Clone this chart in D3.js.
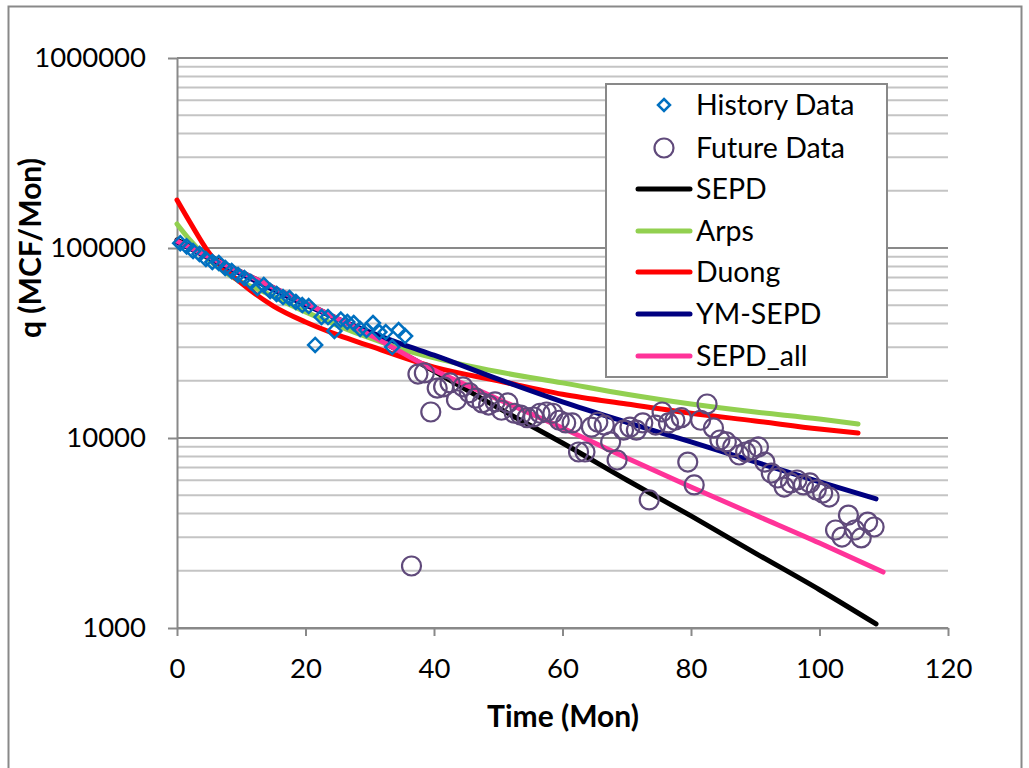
<!DOCTYPE html>
<html>
<head>
<meta charset="utf-8">
<script src="https://cdn.jsdelivr.net/npm/d3@7"></script>
<style>
  body { margin: 0; background: #fff; }
  svg text { font-family: Lato, "Open Sans", sans-serif; fill: #000; }
</style>
</head>
<body>
<svg id="chart" width="1029" height="768"></svg>
<script>
// history production (months, MCF/Mon)
var historyMonths = [0.5,1.5,2.5,3.5,4.5,5.5,6.5,7.5,8.5,9.5,10.5,11.5,12.5,13.5,14.5,15.5,16.5,17.5,
  18.5,19.5,20.5,21.5,22.5,23.5,24.5,25.5,26.5,27.5,28.5,29.5,30.5,31.5,32.5,33.5,34.5,35.5];
var historyRate = [106000,102000,96400,93000,87500,84400,83400,78500,75700,72100,69500,66200,61600,63900,
  59400,57300,55200,54600,52000,50100,49500,30900,43300,43300,36600,42000,40800,40300,37500,37000,
  40300,36100,36100,30100,37000,34400];

// future production
var futureMonths = [36.5,37.5,38.5,39.5,40.5,41.5,42.5,43.5,44.5,45.5,46.5,47.5,48.5,49.5,50.5,51.5,
  52.5,53.5,54.5,55.5,56.5,57.5,58.5,59.5,60.5,61.5,62.5,63.5,64.5,65.5,66.5,67.5,68.5,69.5,70.5,
  71.5,72.5,73.5,74.5,75.5,76.5,77.5,78.5,79.5,80.5,81.5,82.5,83.5,84.5,85.5,86.5,87.5,88.5,89.5,
  90.5,91.5,92.5,93.5,94.5,95.5,96.5,97.5,98.5,99.5,100.5,101.5,102.5,103.5,104.5,105.5,106.5,107.5,108.5];
var futureRate = [2120,21700,22000,13700,18300,18600,19500,15900,18600,17300,16200,15300,14900,15500,
  14000,15300,13500,13200,12800,12900,13500,13700,13500,12400,12000,12000,8440,8440,11400,12100,
  11700,9530,7660,11000,11400,11000,12000,4720,11700,13700,12000,12400,12800,7470,5660,12400,
  15100,11300,9760,9530,8970,8140,8440,8650,8970,7470,6540,6160,5520,5800,6010,5660,5800,5330,
  5130,4890,3280,3010,3930,3280,2980,3610,3400];

// model curves
var sepdMonths = [0,5,10,20,30,40,50,60,70,80,90,100,108.8];
var sepdRate = [110200,90800,74700,51300,34900,22500,14400,9410,6010,3890,2480,1590,1050];

var arpsMonths = [0,2,5,10,12.5,20,30,35,40,50,60,70,80,90,100,106];
var arpsRate = [133800,110200,86500,66200,60800,46100,33600,29400,26400,22300,19500,17000,15100,13700,12600,11850];

var duongMonths = [0,2,5,10,15,20,25,30,40,50,60,70,80,90,100,106];
var duongRate = [178900,137000,94100,65400,49500,40800,34900,30500,23600,20000,17000,15100,13500,12300,11150,10630];

var ymMonths = [0,5,10,20,30,35,40,50,60,70,80,90,100,108.8];
var ymRate = [107500,88600,73000,50100,36100,31200,27300,20400,15500,12100,9530,7480,5870,4780];

var sepdAllMonths = [0,5,10,20,30,40,50,60,70,80,90,100,109.9];
var sepdAllRate = [108900,89700,74700,51300,34900,22800,16000,11300,7850,5520,3930,2800,1970];

var xTicks = [0,20,40,60,80,100,120];
var yTicks = [1000,10000,100000,1000000];

var lineSeries = [
  {name: "SEPD", color: "#000000", t: sepdMonths, q: sepdRate},
  {name: "Arps", color: "#92D050", t: arpsMonths, q: arpsRate},
  {name: "Duong", color: "#FF0000", t: duongMonths, q: duongRate},
  {name: "YM-SEPD", color: "#000080", t: ymMonths, q: ymRate},
  {name: "SEPD_all", color: "#FF3399", t: sepdAllMonths, q: sepdAllRate}
];

var svg = d3.select("#chart");

// chart area border
svg.append("rect")
  .attr("x", 8.5).attr("y", 6.5)
  .attr("width", 1013).attr("height", 800)
  .attr("fill", "#fff").attr("stroke", "#898989").attr("stroke-width", 2);

var x = d3.scaleLinear().domain([0, 120]).range([177, 948]);
var y = d3.scaleLog().domain([1000, 1000000]).range([628, 58]);

// gridlines
var minor = [];
[1000, 10000, 100000].forEach(function(b) {
  for (var k = 2; k <= 9; k++) minor.push(b * k);
});
svg.append("g").selectAll("line").data(minor).enter().append("line")
  .attr("x1", 177).attr("x2", 948)
  .attr("y1", function(d) { return y(d); }).attr("y2", function(d) { return y(d); })
  .attr("stroke", "#c4c4c4").attr("stroke-width", 2);
svg.append("g").selectAll("line").data(yTicks).enter().append("line")
  .attr("x1", 177).attr("x2", 948)
  .attr("y1", function(d) { return y(d); }).attr("y2", function(d) { return y(d); })
  .attr("stroke", "#898989").attr("stroke-width", 2);

// axes
var xAxis = svg.append("g")
  .attr("transform", "translate(0,628)")
  .call(d3.axisBottom(x).tickValues(xTicks).tickSize(8).tickPadding(22).tickSizeOuter(0));
var yAxis = svg.append("g")
  .attr("transform", "translate(177,0)")
  .call(d3.axisLeft(y).tickValues(yTicks).tickFormat(d3.format("d")).tickSize(9).tickPadding(22).tickSizeOuter(0));
[xAxis, yAxis].forEach(function(a) {
  a.selectAll("path, line").attr("stroke", "#898989").attr("stroke-width", 2);
  a.selectAll("text").style("font-size", "27.5px").attr("fill", "#000");
});

// model lines
var line = d3.line()
  .x(function(d) { return x(d[0]); })
  .y(function(d) { return y(d[1]); })
  .curve(d3.curveMonotoneX);
lineSeries.forEach(function(s) {
  svg.append("path")
    .datum(s.t.map(function(t, i) { return [t, s.q[i]]; }))
    .attr("d", line)
    .attr("fill", "none")
    .attr("stroke", s.color)
    .attr("stroke-width", 5)
    .attr("stroke-linecap", "round")
    .attr("stroke-linejoin", "round");
});

// future data circles
svg.append("g").selectAll("circle")
  .data(futureMonths)
  .enter().append("circle")
  .attr("cx", function(d) { return x(d); })
  .attr("cy", function(d, i) { return y(futureRate[i]); })
  .attr("r", 9.5)
  .attr("fill", "none")
  .attr("stroke", "#604A7B")
  .attr("stroke-width", 2.2);

// history data diamonds
var diamond = function(cx, cy, h) {
  return "M" + cx + "," + (cy - h) + "L" + (cx + h) + "," + cy + "L" + cx + "," + (cy + h) + "L" + (cx - h) + "," + cy + "Z";
};
svg.append("g").selectAll("path")
  .data(historyMonths)
  .enter().append("path")
  .attr("d", function(d, i) { return diamond(x(d), y(historyRate[i]), 7); })
  .attr("fill", "none")
  .attr("stroke", "#0070C0")
  .attr("stroke-width", 2.5);

// axis titles
svg.append("text")
  .attr("x", 563).attr("y", 727)
  .attr("text-anchor", "middle")
  .style("font-size", "30px").style("font-weight", "bold")
  .text("Time (Mon)");
svg.append("text")
  .attr("transform", "translate(41,248) rotate(-90)")
  .attr("text-anchor", "middle")
  .style("font-size", "30px").style("font-weight", "bold")
  .text("q (MCF/Mon)");

// legend
var legend = svg.append("g");
legend.append("rect")
  .attr("x", 606).attr("y", 84).attr("width", 281).attr("height", 293)
  .attr("fill", "#fff").attr("stroke", "#898989").attr("stroke-width", 2);
var rowY = [105, 148, 189, 231, 272, 314, 356];
legend.append("path")
  .attr("d", diamond(664, rowY[0], 6))
  .attr("fill", "none").attr("stroke", "#0070C0").attr("stroke-width", 2.5);
legend.append("circle")
  .attr("cx", 664).attr("cy", rowY[1]).attr("r", 9.5)
  .attr("fill", "none").attr("stroke", "#604A7B").attr("stroke-width", 2.2);
lineSeries.forEach(function(s, i) {
  legend.append("line")
    .attr("x1", 638).attr("x2", 690)
    .attr("y1", rowY[i + 2]).attr("y2", rowY[i + 2])
    .attr("stroke", s.color).attr("stroke-width", 5).attr("stroke-linecap", "round");
});
var names = ["History Data", "Future Data"].concat(lineSeries.map(function(s) { return s.name; }));
legend.selectAll("text.lbl").data(names).enter().append("text")
  .attr("class", "lbl")
  .attr("x", 696)
  .attr("y", function(d, i) { return rowY[i]; })
  .attr("dy", "0.35em")
  .style("font-size", "28.5px")
  .text(function(d) { return d; });
</script>
</body>
</html>
